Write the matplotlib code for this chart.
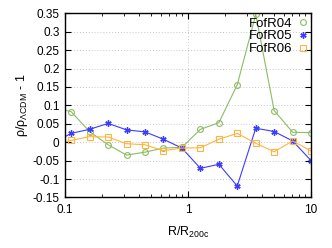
import matplotlib
matplotlib.use("Agg")
import matplotlib.pyplot as plt
from matplotlib.ticker import FixedLocator, NullFormatter, LogLocator

# data
r = [0.0794, 0.112, 0.158, 0.224, 0.316, 0.447, 0.631, 0.891, 1.26, 1.78, 2.51, 3.55, 5.01, 7.08, 10.0]
fofr04 = [0.096, 0.083, 0.029, -0.007, -0.035, -0.027, -0.016, -0.014, 0.035, 0.053, 0.156, 0.347, 0.086, 0.027, 0.026]
fofr05 = [-0.003, 0.024, 0.035, 0.051, 0.0335, 0.028, 0.008, -0.016, -0.071, -0.060, -0.119, 0.038, 0.029, 0.0035, -0.050]
fofr06 = [-0.007, 0.005, 0.015, 0.014, -0.004, -0.007, -0.023, -0.016, -0.015, 0.008, 0.024, -0.003, -0.026, 0.0035, -0.024]
labels = ["FofR04", "FofR05", "FofR06"]
yticks = [-0.15, -0.1, -0.05, 0, 0.05, 0.1, 0.15, 0.2, 0.25, 0.3, 0.35]
yticklabels = ["-0.15", "-0.1", "-0.05", "0", "0.05", "0.1", "0.15", "0.2", "0.25", "0.3", "0.35"]
xticks = [0.1, 1, 10]
xticklabels = ["0.1", "1", "10"]

plt.rcParams['font.family'] = ['Liberation Sans', 'DejaVu Sans']

fig = plt.figure(figsize=(3.32, 2.48), dpi=100)
ax = fig.add_axes([0.196, 0.204, 0.741, 0.742])

c_green = '#8cbc64'
c_blue = '#3c3cff'
c_orange = '#ffb440'

ax.plot(r, fofr04, color=c_green, lw=0.8, marker='o', ms=4.2, mfc='none', mew=0.8, label=labels[0])
ax.plot(r, fofr05, color=c_blue, lw=0.8, marker=(6, 2, 0), ms=4.5, mew=1.0, label=labels[1])
ax.plot(r, fofr06, color=c_orange, lw=0.8, marker='s', ms=4.0, mfc='none', mew=0.8, label=labels[2])

ax.set_xscale('log')
ax.set_xlim(0.1, 10)
ax.set_ylim(-0.15, 0.35)
ax.set_yticks(yticks)
ax.set_yticklabels(yticklabels)
ax.xaxis.set_major_locator(FixedLocator(xticks))
ax.set_xticklabels(xticklabels)
ax.xaxis.set_minor_locator(LogLocator(base=10, subs=range(2, 10)))
ax.xaxis.set_minor_formatter(NullFormatter())

ax.grid(True, which='major', color='#c8c8c8', linestyle=(0, (1, 2)), lw=0.7)
ax.tick_params(which='both', direction='in', top=True, right=True, labelsize=8.5)
ax.tick_params(axis='y', pad=4)
ax.tick_params(axis='x', pad=5)
ax.tick_params(which='major', length=4, width=0.8)
ax.tick_params(which='minor', length=2, width=0.6)
for s in ax.spines.values():
    s.set_linewidth(1.0)

ax.set_xlabel(r'R/R$_{\mathregular{200c}}$', fontsize=9, labelpad=6)
ax.set_ylabel(r'$\mathregular{\rho/\rho_{\Lambda CDM}}$ - 1', fontsize=9, labelpad=2)

leg = ax.legend(loc='upper right', frameon=False, fontsize=9.5, markerfirst=False,
                handlelength=0.6, handletextpad=0.5, labelspacing=0.05,
                borderaxespad=0.1, borderpad=0.2)
for h in leg.legend_handles:
    h.set_linestyle('none')
for t in leg.get_texts():
    t.set_ha('right')

fig.savefig('out.png', dpi=100)
